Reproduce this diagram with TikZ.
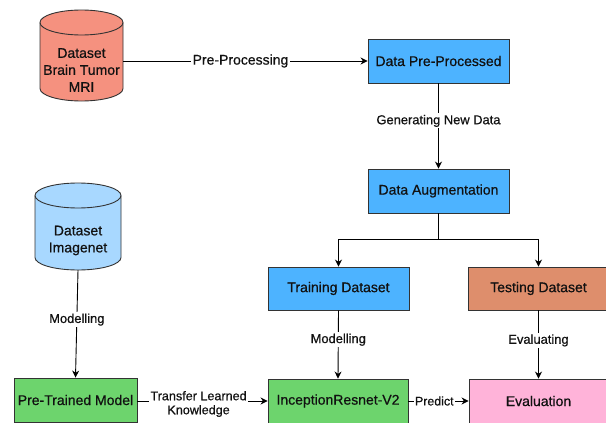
\documentclass[tikz,border=0pt]{standalone}
\usepackage{fontspec}
\setmainfont{Liberation Sans}[FakeBold=0.6]
\usetikzlibrary{arrows.meta}
\definecolor{redfill}{HTML}{F5917F}
\definecolor{bluefill}{HTML}{4DB3FF}
\definecolor{lightblue}{HTML}{A8D8FF}
\definecolor{testfill}{HTML}{DE8E6C}
\definecolor{greenfill}{HTML}{6DD46D}
\definecolor{pinkfill}{HTML}{FFB3D9}
\definecolor{edgegray}{HTML}{333333}
\definecolor{txt}{HTML}{111111}
\tikzset{
  box/.style={draw=edgegray, line width=0.9pt, minimum width=141pt, minimum height=44pt, inner sep=0pt, text=txt, font=\fontsize{14}{17}\selectfont},
  cyltext/.style={align=center, text=txt, font=\fontsize{14}{17}\selectfont, inner sep=0pt},
  hole/.style={minimum width=83pt, minimum height=91pt, inner sep=0pt},
  conn/.style={draw=black, line width=0.9pt, -{Stealth[length=7pt,width=7pt]}},
  plainconn/.style={draw=black, line width=0.9pt},
  elabel/.style={fill=white, inner sep=1.5pt, text=txt, font=\fontsize{12.9}{15}\selectfont},
  cylbody/.style={draw=edgegray, line width=0.9pt}
}
\begin{document}
\begin{tikzpicture}[x=1pt, y=-1pt]
\useasboundingbox (0,0) rectangle (606,423);
\fill[white] (0,0) rectangle (606,423);

% Red cylinder: Dataset Brain Tumor MRI
\node[hole] (mri) at (81.5,55.5) {};
\path[cylbody, fill=redfill] (40,22.5) -- (40,88.5)
  arc[start angle=180, end angle=360, x radius=41.5pt, y radius=12.5pt]
  -- (123,22.5)
  arc[start angle=0, end angle=180, x radius=41.5pt, y radius=12.5pt] -- cycle;
\draw[cylbody] (40,22.5) arc[start angle=180, end angle=360, x radius=41.5pt, y radius=12.5pt];
\node[cyltext] (mritext) at (81.5,70) {Dataset\\Brain Tumor\\MRI};

% Blue cylinder: Dataset Imagenet
\node[hole, minimum width=86pt, minimum height=87pt] (imgnet) at (78,226.5) {};
\path[cylbody, fill=lightblue] (35,195.5) -- (35,257.5)
  arc[start angle=180, end angle=360, x radius=43pt, y radius=12.5pt]
  -- (121,195.5)
  arc[start angle=0, end angle=180, x radius=43pt, y radius=12.5pt] -- cycle;
\draw[cylbody] (35,195.5) arc[start angle=180, end angle=360, x radius=43pt, y radius=12.5pt];
\node[cyltext] (imgtext) at (78,240.5) {Dataset\\Imagenet};

% Boxes
\node[box, fill=bluefill] (dpp) at (438.5,61) {Data Pre-Processed};
\node[box, fill=bluefill] (aug) at (438.5,191) {Data Augmentation};
\node[box, fill=bluefill, minimum height=43pt] (train) at (338.5,288.5) {Training Dataset};
\node[box, fill=testfill, minimum height=43pt] (test) at (538.5,288.5) {Testing Dataset};
\node[box, fill=greenfill, minimum width=123pt] (ptm) at (75.5,400) {Pre-Trained Model};
\node[box, fill=greenfill, minimum width=140pt] (inc) at (338,401) {InceptionResnet-V2};
\node[box, fill=pinkfill, minimum width=139pt] (eval) at (538.5,401) {Evaluation};

% Connectors
\draw[conn] (mri.east |- dpp.west) -- node[elabel, pos=0.48, font=\fontsize{14}{16}\selectfont] {Pre-Processing} (dpp.west);
\draw[conn] (dpp.south) -- node[elabel, pos=0.44] {Generating New Data} (aug.north);
\coordinate (split) at (438.5,239);
\draw[conn] (aug.south) -- (split) -| (train.north);
\draw[conn] (split) -| (test.north);
\draw[conn] (train.south) -- node[elabel, pos=0.43] {Modelling} (inc.north);
\draw[conn] (test.south) -- node[elabel, pos=0.44] {Evaluating} (eval.north -| test.south);
\draw[conn] (imgnet.south) -- node[elabel, pos=0.46] {Modelling} (ptm.north);
\draw[conn] (ptm.east |- inc.west) -- node[elabel, pos=0.47, yshift=-3pt, align=center, font=\fontsize{12.6}{14}\selectfont] {Transfer Learned\\Knowledge} (inc.west);
\draw[conn] (inc.east) -- node[elabel, pos=0.43, inner sep=1pt, font=\fontsize{12.4}{15}\selectfont] {Predict} (eval.west);
\end{tikzpicture}
\end{document}
